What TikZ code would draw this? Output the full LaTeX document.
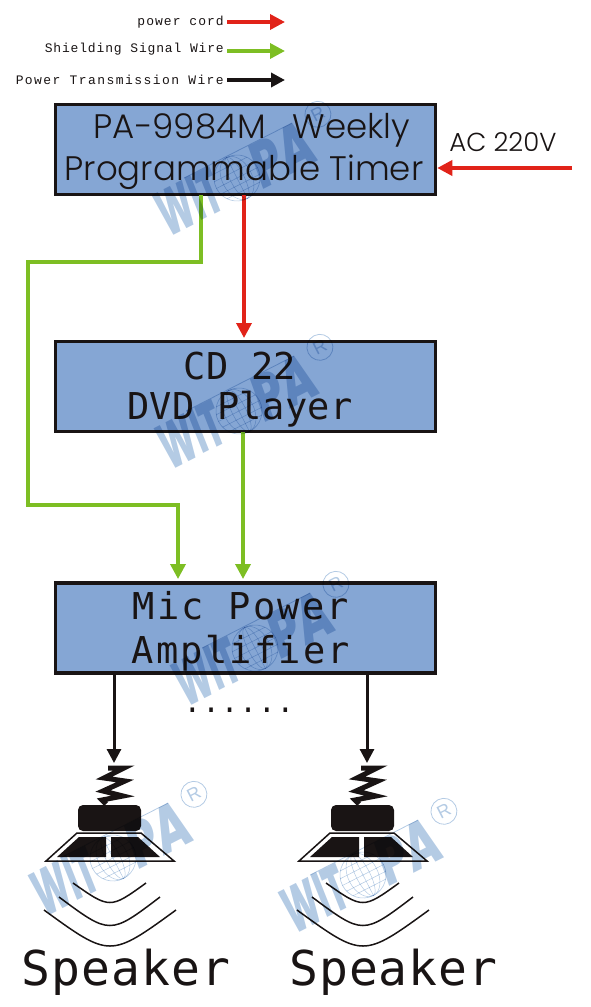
\documentclass[tikz,border=0pt]{standalone}
\usepackage{xcolor}
\usepackage{fontspec}
\usepackage{tikz}
\usetikzlibrary{arrows.meta}
\setmainfont{Poppins Light}
\newfontfamily\monofont[LetterSpace=6]{DejaVu Sans Mono}
\newfontfamily\playerfont[LetterSpace=1]{DejaVu Sans Mono}
\newfontfamily\speakerfont[LetterSpace=2]{DejaVu Sans Mono}
\newfontfamily\legendfont{Liberation Mono}
\newfontfamily\markfont{Poppins ExtraBold Italic}
\newfontfamily\regfont{Liberation Sans}
\definecolor{boxblue}{RGB}{133,166,212}
\definecolor{cordred}{RGB}{225,35,25}
\definecolor{signalgreen}{RGB}{125,190,35}
\definecolor{wireblack}{RGB}{25,20,20}
\definecolor{markblue}{RGB}{180,203,228}
\tikzset{
	unit/.style={draw=wireblack,line width=3.5pt,fill=boxblue,minimum width=380pt,minimum height=90pt,inner sep=0pt},
	unittext/.style={inner sep=0pt,align=center,text=wireblack},
	cord/.style={draw=cordred,line width=3.5pt,-{Triangle[length=15pt,width=15pt]}},
	signal/.style={draw=signalgreen,line width=3.5pt,-{Triangle[length=15pt,width=15pt]}},
	wire/.style={draw=wireblack,line width=3pt,-{Triangle[length=14pt,width=14pt]}},
	legend/.style={anchor=east,inner sep=0pt,text=wireblack,font=\legendfont\fontsize{13}{15}\selectfont},
	speakerpic/.pic={
		\draw[wireblack,line width=5pt,line join=miter] (108,768) -- (124,768) -- (104,778) -- (125,781) -- (103,791) -- (123,796) -- (102,800) -- (106,804);
		\fill[wireblack,rounded corners=5pt] (78,805) rectangle (141,831);
		\draw[wireblack,line width=1.5pt,fill=white] (46,861) -- (77,833) -- (141,833) -- (174,861) -- cycle;
		\fill[wireblack] (57,857) -- (79,837) -- (106,837) -- (106,857) -- cycle;
		\fill[wireblack] (111,837) -- (138,837) -- (160,857) -- (111,857) -- cycle;
		\draw[wireblack,line width=1.5pt] (73,883) .. controls (110,909) .. (146,883);
		\draw[wireblack,line width=1.5pt] (59,897) .. controls (110,935) .. (160,897);
		\draw[wireblack,line width=1.5pt] (44,910) .. controls (110,958) .. (176,910);
	},
	markpic/.pic={
		\begin{scope}[blend mode=multiply]
			\node[anchor=base west,inner sep=0pt,text=markblue,xscale=0.52,font=\markfont\fontsize{64}{64}\selectfont] (wit) at (-87,22) {WIT};
			\node[anchor=base west,inner sep=0pt,text=markblue,xscale=0.73,font=\markfont\fontsize{64}{64}\selectfont] (pa) at (18,22) {PA};
			\draw[markblue,line width=0.8pt] (-47,-24) -- (74,-24);
			\draw[markblue,line width=0.6pt] (0,0) circle (23);
			\foreach \r in {7,15}
				\draw[markblue,line width=0.5pt] (0,0) ellipse (\r pt and 23pt);
			\draw[markblue,line width=0.5pt] (0,-23) -- (0,23);
			\foreach \h in {-14,-7,0,7,14}
				\draw[markblue,line width=0.5pt] ({-sqrt(529-\h*\h)},\h) -- ({sqrt(529-\h*\h)},\h);
			\node[draw=markblue,circle,line width=0.8pt,minimum size=26pt,inner sep=0pt,text=markblue,font=\regfont\fontsize{18}{18}\selectfont] (reg) at (101,-20) {R};
		\end{scope}
	}
}
\begin{document}
\begin{tikzpicture}[x=1pt,y=-1pt]
	\useasboundingbox (0,0) rectangle (590,1007);
	% legend
	\node[legend] (cordtext) at (224,22) {\addfontfeature{LetterSpace=8}power cord};
	\node[legend] (signaltext) at (224,49) {\addfontfeature{LetterSpace=6.5}Shielding Signal Wire};
	\node[legend] (wiretext) at (224,80) {\addfontfeature{LetterSpace=11}Power Transmission Wire};
	\coordinate (cordend) at (285,22);
	\coordinate (signalend) at (285,51);
	\coordinate (wireend) at (285,80);
	\draw[cord] (cordtext.east) ++(3,0) -- (cordend);
	\draw[signal] (signaltext.east) ++(3,2) -- (signalend);
	\draw[wire,line width=4pt] (wiretext.east) ++(3,0) -- (wireend);
	% units
	\node[unit] (timer) at (245.5,149.5) {};
	\node[unit] (player) at (245.5,386.5) {};
	\node[unit] (amp) at (245.5,628) {};
	\node[unittext,font=\fontsize{34}{42}\selectfont] (timertext) at (244,151) {\hspace*{16pt}PA-9984M\hspace{27pt}Weekly\\Programmable Timer};
	\node[unittext,font=\playerfont\fontsize{37}{40}\selectfont] (playertext) at (240,390) {CD 22\\DVD Player};
	\node[unittext,font=\monofont\fontsize{37}{44}\selectfont] (amptext) at (241,631) {Mic Power\\Amplifier};
	\node[inner sep=0pt,text=wireblack,font=\fontsize{26}{28}\selectfont] (mains) at (503,142) {AC 220V};
	\coordinate (mainsend) at (572,168);
	\draw[cord] (mainsend) -- (mainsend -| timer.east);
	% connectors
	\draw[cord] (244,195) -- (244,338);
	\draw[signal] (201,195) -- (201,262) -- (28,262) -- (28,505) -- (178,505) -- (178,579);
	\draw[signal] (243,432) -- (243,579);
	\draw[wire] (114,675) -- (114,763);
	\draw[wire] (367,675) -- (367,763);
	\node[inner sep=0pt,text=wireblack,font=\fontsize{31}{31}\selectfont\legendfont] (dots) at (239,710) {......};
	% speakers
	\pic (left) at (0,0) {speakerpic};
	\pic (right) at (253,0) {speakerpic};
	\node[anchor=base,inner sep=0pt,text=wireblack,font=\speakerfont\fontsize{48}{48}\selectfont] (lefttext) at (126,985) {Speaker};
	\node[anchor=base,inner sep=0pt,text=wireblack,font=\speakerfont\fontsize{48}{48}\selectfont] (righttext) at (393.5,985) {Speaker};
	% marks
	\pic[rotate=27,transform shape] (marka) at (237,178) {markpic};
	\pic[rotate=27,transform shape] (markb) at (239,411) {markpic};
	\pic[rotate=27,transform shape] (markc) at (255,648) {markpic};
	\pic[rotate=27,transform shape] (markd) at (113,858) {markpic};
	\pic[rotate=27,transform shape] (marke) at (363,875) {markpic};
\end{tikzpicture}
\end{document}
